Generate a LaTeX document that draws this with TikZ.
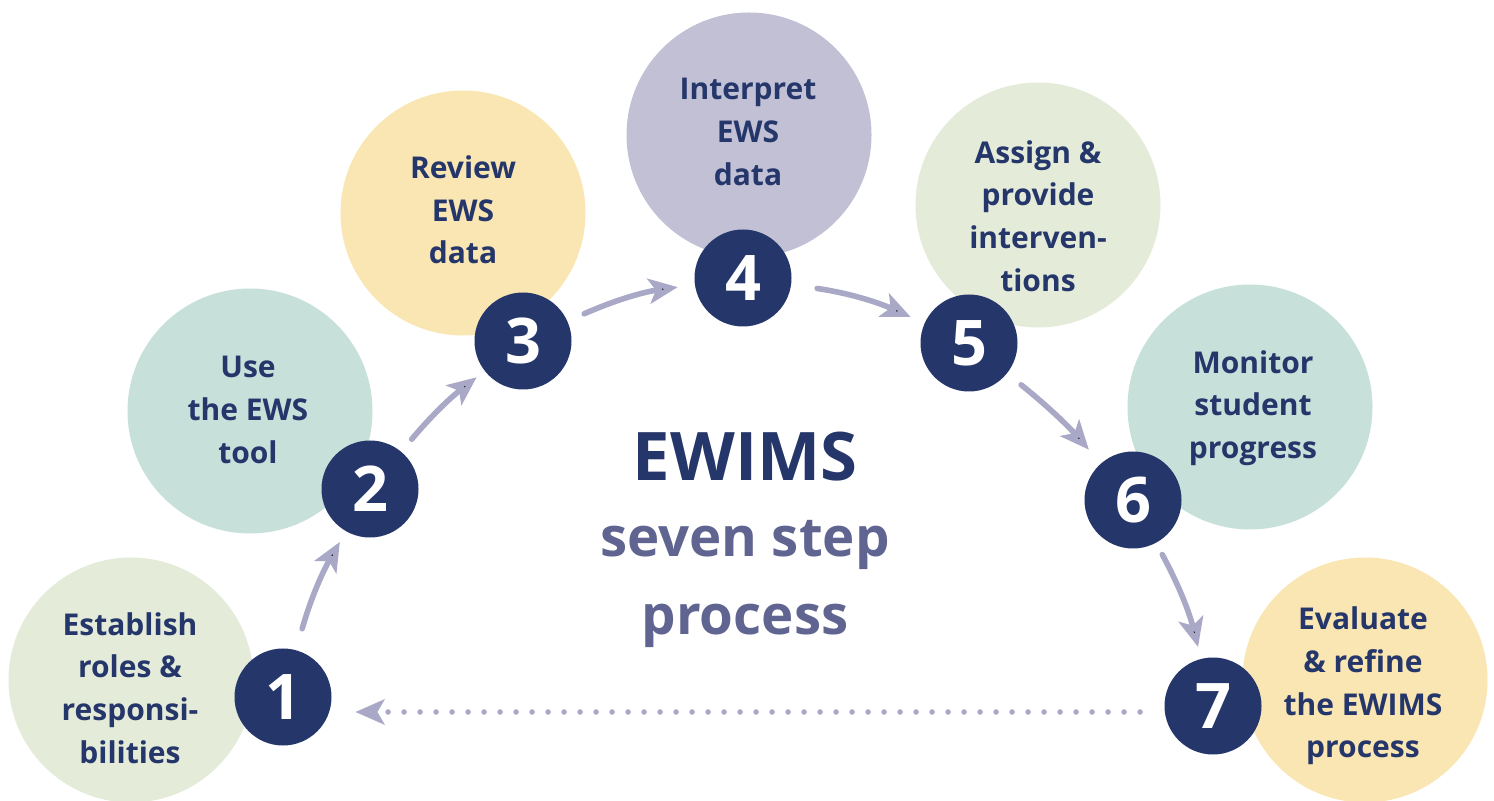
\documentclass[tikz,border=0pt]{standalone}
\usepackage{fontspec}
\setmainfont{Open Sans}
\usetikzlibrary{arrows.meta,calc,positioning}
\definecolor{navy}{HTML}{25366A}
\definecolor{arrowgray}{HTML}{A9A8C6}
\definecolor{palegreen}{HTML}{E4ECD9}
\definecolor{paleteal}{HTML}{C8E0DA}
\definecolor{paleyellow}{HTML}{F9E6B3}
\definecolor{palelavender}{HTML}{C1C0D4}
\definecolor{slate}{HTML}{5F6490}
\tikzset{
    bigcircle/.style={
    circle,minimum size=122.5pt,inner sep=0pt,draw=none
    },
    numcircle/.style={
    circle,fill=navy,minimum size=48.5pt,inner sep=0pt,text=white,
    font=\fontsize{31.5}{31.5}\selectfont\bfseries
    },
    steptext/.style={
    align=center,text=navy,font=\fontsize{15}{21.3}\selectfont\bfseries
    },
    flow/.style={
    draw=arrowgray,line width=2.8pt,line cap=round,
    -{Stealth[length=14.5pt,width=12.5pt,inset=3.5pt]}
    },
    backflow/.style={
    flow,dash pattern=on 0pt off 8pt
    },
}
\begin{document}
\begin{tikzpicture}[x=0.5pt,y=-0.5pt]
  \useasboundingbox (0,0) rectangle (1494,801);
  % pale circles
  \node[bigcircle,fill=palegreen]    (c1) at (131,680)  {};
  \node[bigcircle,fill=paleteal]     (c2) at (250,411)  {};
  \node[bigcircle,fill=paleyellow]   (c3) at (463,213)  {};
  \node[bigcircle,fill=palelavender] (c4) at (749,135)  {};
  \node[bigcircle,fill=palegreen]    (c5) at (1038,205) {};
  \node[bigcircle,fill=paleteal]     (c6) at (1250,407) {};
  \node[bigcircle,fill=paleyellow]   (c7) at (1365,680) {};
  % step texts
  \node[steptext] (t1) at (130,688)  {Establish\\roles \&\\responsi-\\bilities};
  \node[steptext] (t2) at (248,410)  {Use\\the EWS\\tool};
  \node[steptext] (t3) at (463,210)  {Review\\EWS\\data};
  \node[steptext] (t4) at (748,132)  {Interpret\\EWS\\data};
  \node[steptext] (t5) at (1038,216) {Assign \&\\provide\\interven-\\tions};
  \node[steptext] (t6) at (1253,408) {Monitor\\student\\progress};
  \node[steptext] (t7) at (1363,686) {Evaluate\\\& refine\\the EWIMS\\process};
  % numbers
  \node[numcircle] (n1) at (283,697)  {1};
  \node[numcircle] (n2) at (370,489)  {2};
  \node[numcircle] (n3) at (523,341)  {3};
  \node[numcircle] (n4) at (743,278)  {4};
  \node[numcircle] (n5) at (969,343)  {5};
  \node[numcircle] (n6) at (1133,500) {6};
  \node[numcircle] (n7) at (1213,706) {7};
  % middle title
  \node[anchor=base,text=navy,font=\fontsize{33.5}{33.5}\selectfont\bfseries] (title) at (745,481) {EWIMS};
  \node[anchor=base,text=slate,font=\fontsize{27.3}{27.3}\selectfont\bfseries] (sub1) at (745,557) {seven step};
  \node[anchor=base,text=slate,font=\fontsize{27.3}{27.3}\selectfont\bfseries] (sub2) at (745,635) {process};

  \path[flow]
             (n1) edge [bend left=7,shorten <=11pt,shorten >=6pt]   (n2)
             (n2) edge [bend left=6,shorten <=8pt,shorten >=5pt]    (n3)
             (n3) edge [bend left=8,shorten <=9pt,shorten >=8.5pt]  (n4)
             (n4) edge [bend left=8,shorten <=13pt,shorten >=7.5pt] (n5)
             (n5) edge [bend left=5,shorten <=9pt,shorten >=9pt]    (n6)
             (n6) edge [bend left=7,shorten <=6.5pt,shorten >=6pt]  (n7);
  \coordinate (loopstart) at ($(n7.west)+(-24,6)$);
  \draw[backflow,shorten >=11.75pt] (loopstart) -- (loopstart -| n1.east);
\end{tikzpicture}
\end{document}
